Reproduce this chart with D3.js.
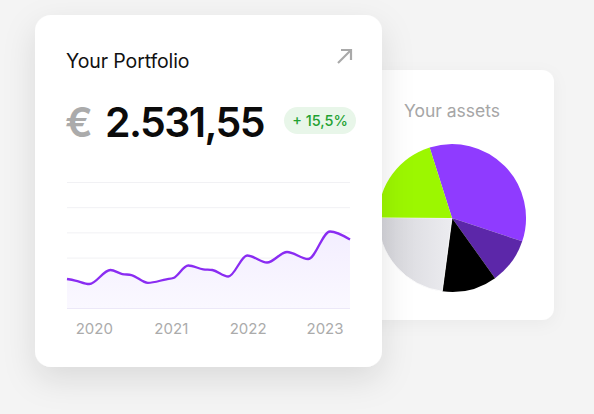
<!DOCTYPE html>
<html>
<head>
<meta charset="utf-8">
<script src="https://cdn.jsdelivr.net/npm/d3@7"></script>
<style>
  html, body { margin: 0; padding: 0; background: #f4f4f4; }
  svg { display: block; }
  text { font-family: Inter, "Helvetica Neue", Arial, sans-serif; }
</style>
</head>
<body>
<script>
// ---- Data ----
const lineDates = ["2019-08-27","2019-10-05","2019-12-11","2020-03-20","2020-05-16","2020-06-28",
  "2020-09-14","2020-12-11","2021-01-13","2021-03-25","2021-06-04","2021-07-17","2021-10-01",
  "2021-12-30","2022-04-03","2022-07-07","2022-10-15","2023-01-27","2023-05-02"];
const lineValues = [1151,1091,952,1508,1349,1309,1000,1139,1190,1686,1536,1508,1250,
  2083,1805,2222,1944,3036,2718];
const yTicks = [0,1000,2000,3000,4000,5000];
const xTickYears = [2020,2021,2022,2023];

const assetNames = ["Stocks","ETFs","Crypto","Cash","Bonds"];
const assetValues = [35,10,12,23,20];
const assetColors = ["#8f3bff","#5c27a9","#000000","#e3e3e8","#9cf700"];

const W = 594, H = 414;
const svg = d3.select("body").append("svg").attr("width", W).attr("height", H);
const defs = svg.append("defs");

const f1 = defs.append("filter").attr("id","shadowMain").attr("x","-30%").attr("y","-30%").attr("width","160%").attr("height","160%");
f1.append("feDropShadow").attr("dx",0).attr("dy",12).attr("stdDeviation",16).attr("flood-color","#000").attr("flood-opacity",0.11);
const f2 = defs.append("filter").attr("id","shadowAsset").attr("x","-30%").attr("y","-30%").attr("width","160%").attr("height","160%");
f2.append("feDropShadow").attr("dx",0).attr("dy",4).attr("stdDeviation",8).attr("flood-color","#000").attr("flood-opacity",0.04);

const areaGrad = defs.append("linearGradient").attr("id","areaGrad").attr("x1",0).attr("y1",0).attr("x2",0).attr("y2",1);
areaGrad.append("stop").attr("offset","0%").attr("stop-color","#f3eeff");
areaGrad.append("stop").attr("offset","100%").attr("stop-color","#faf8ff");

const grayGrad = defs.append("linearGradient").attr("id","grayGrad").attr("x1",0).attr("y1",0).attr("x2",1).attr("y2",0);
grayGrad.append("stop").attr("offset","0%").attr("stop-color","#d4d4d9");
grayGrad.append("stop").attr("offset","100%").attr("stop-color","#ececf0");

// ---- Asset card ----
svg.append("rect").attr("x",330).attr("y",70).attr("width",224).attr("height",250).attr("rx",12)
  .attr("fill","#fff").attr("filter","url(#shadowAsset)");
svg.append("text").attr("x",452).attr("y",117).attr("text-anchor","middle")
  .attr("font-size",17.5).attr("fill","#a6a6a6").text("Your assets");

const pie = d3.pie().sort(null).value(d => d).startAngle(-17.6*Math.PI/180).endAngle(-17.6*Math.PI/180 + 2*Math.PI);
const arc = d3.arc().innerRadius(0).outerRadius(74);
const pg = svg.append("g").attr("transform","translate(452,218)");
pg.selectAll("path").data(pie(assetValues)).join("path")
  .attr("d", arc)
  .attr("fill", (d,i) => i === 3 ? "url(#grayGrad)" : assetColors[i])
  .attr("stroke", (d,i) => i === 3 ? "#fff" : "none")
  .attr("stroke-width", 0.8);

// ---- Main card ----
svg.append("rect").attr("x",35).attr("y",15).attr("width",347).attr("height",352).attr("rx",16)
  .attr("fill","#fff").attr("filter","url(#shadowMain)");

svg.append("text").attr("x",66).attr("y",67.5).attr("font-size",19.5).attr("fill","#111")
  .attr("letter-spacing",-0.1).text("Your Portfolio");

// arrow icon
const ar = svg.append("g").attr("stroke","#a9a9a9").attr("stroke-width",2.2).attr("fill","none");
ar.append("path").attr("d","M338,63 L351,50");
ar.append("path").attr("d","M341,50 L351,50 L351,60");

svg.append("text").attr("x",65).attr("y",136.5).attr("font-size",41).attr("font-weight",600)
  .attr("fill","#ababab").text("€");
svg.append("text").attr("x",105).attr("y",136.5).attr("font-size",41).attr("font-weight",600)
  .attr("fill","#0b0b0b").attr("letter-spacing",-1.6).text("2.531,55");

svg.append("rect").attr("x",284).attr("y",107).attr("width",72).attr("height",27).attr("rx",13.5).attr("fill","#e8f6e9");
svg.append("text").attr("x",320).attr("y",126).attr("text-anchor","middle").attr("font-size",14.5)
  .attr("font-weight",500).attr("fill","#1fa232").text("+ 15,5%");

// ---- Line chart ----
const parse = d3.timeParse("%Y-%m-%d");
const data = lineDates.map((d,i) => ({date: parse(d), value: lineValues[i]}));
const x = d3.scaleTime().domain([data[0].date, data[data.length-1].date]).range([67,350]);
const y = d3.scaleLinear().domain([0,5000]).range([308,182]);

const grid = svg.append("g");
grid.selectAll("line").data(yTicks).join("line")
  .attr("x1",67).attr("x2",350).attr("y1",d=>y(d)+0.5).attr("y2",d=>y(d)+0.5)
  .attr("stroke", d => d === 0 ? "#ece8f8" : "#f1f1f4").attr("stroke-width",1);

const area = d3.area().x(d=>x(d.date)).y0(y(0)).y1(d=>y(d.value)).curve(d3.curveMonotoneX);
svg.append("path").datum(data).attr("d",area).attr("fill","url(#areaGrad)");
const line = d3.line().x(d=>x(d.date)).y(d=>y(d.value)).curve(d3.curveMonotoneX);
svg.append("path").datum(data).attr("d",line).attr("fill","none").attr("stroke","#8a2cf2")
  .attr("stroke-width",2.3).attr("stroke-linejoin","round");

const xAxis = d3.axisBottom(x).tickValues(xTickYears.map(yr => new Date(yr,0,1)))
  .tickFormat(d3.timeFormat("%Y")).tickSize(0).tickPadding(0);
const gx = svg.append("g").attr("transform","translate(0,334)").call(xAxis);
gx.select(".domain").remove();
gx.selectAll("text").attr("font-size",15).attr("fill","#ababab").attr("font-weight",400)
  .attr("font-family",'Inter, "Helvetica Neue", Arial, sans-serif').attr("dy",0).attr("y",0);
</script>
</body>
</html>
